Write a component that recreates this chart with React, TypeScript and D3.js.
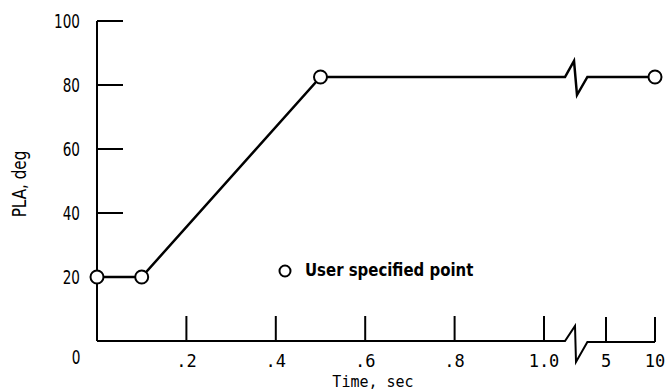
import React from "react";
import * as d3 from "d3";

const times = [0, 0.1, 0.5, 10];
const pla = [20, 20, 82.5, 82.5];
const yTicks = [20, 40, 60, 80, 100];
const xTicksLow = [0.2, 0.4, 0.6, 0.8, 1.0];
const xTickLowLabels = [".2", ".4", ".6", ".8", "1.0"];
const xTicksHigh = [5, 10];
const xTickHighLabels = ["5", "10"];

const W = 666;
const H = 390;
const sans = "'DejaVu Sans', 'Liberation Sans', sans-serif";
const mono = "'DejaVu Sans Mono', 'Liberation Mono', monospace";

const y = d3.scaleLinear().domain([0, 100]).range([341, 21]);
const xLow = d3.scaleLinear().domain([0, 1]).range([97, 544]);
const xHigh = d3.scaleLinear().domain([5, 10]).range([606, 655]);
const lowEnd = 1.047;
const highStart = 3.1;
const xAt = (t: number) => (t <= lowEnd ? xLow(t) : xHigh(t));

function Narrow({ x, y, anchor, sx, size, weight, children }: any) {
  return (
    <text
      transform={`translate(${x},${y}) scale(${sx},1)`}
      textAnchor={anchor}
      fontFamily={sans}
      fontSize={size}
      fontWeight={weight ?? "normal"}
    >
      {children}
    </text>
  );
}

export default function App() {
  const x0 = xLow(0);
  const yBase = y(0);
  const bStart = xLow(lowEnd);
  const bEnd = xHigh(highStart);

  const pts = times.map((t, i) => [xAt(t), y(pla[i])] as [number, number]);
  const line = d3.line();
  const lowPts = pts.filter((_, i) => times[i] <= lowEnd);
  const yLast = y(pla[pla.length - 1]);
  const dataPath = line([
    ...lowPts,
    [bStart, yLast],
    [bStart + 9, yLast - 16],
    [bStart + 12, yLast + 18],
    [bEnd, yLast],
    pts[pts.length - 1],
  ]);
  const axisPath = line([
    [x0, yBase],
    [bStart, yBase],
    [bStart + 10, yBase - 15],
    [bStart + 11, yBase + 21],
    [bEnd, yBase + 1],
    [xHigh(10), yBase + 1],
  ]);

  return (
    <svg width={W} height={H} style={{ position: "absolute", left: 0, top: 0, background: "#fff" }}>
      <rect x={0} y={0} width={W} height={H} fill="#fff" />
      {/* y axis */}
      <line x1={x0} x2={x0} y1={y(100)} y2={yBase} stroke="#000" strokeWidth={2} />
      {yTicks.map((v) => (
        <g key={v}>
          <line x1={x0} x2={x0 + 26} y1={y(v)} y2={y(v)} stroke="#000" strokeWidth={2} />
          <Narrow x={80} y={y(v) + 7} anchor="end" sx={0.68} size={20} weight={500}>
            {v}
          </Narrow>
        </g>
      ))}
      <Narrow x={76} y={364} anchor="middle" sx={0.72} size={19} weight={500}>
        0
      </Narrow>
      {/* x axis */}
      <path d={axisPath ?? ""} fill="none" stroke="#000" strokeWidth={2} strokeLinejoin="miter" />
      {xTicksLow.map((v, i) => (
        <g key={"l" + v}>
          <line x1={xLow(v)} x2={xLow(v)} y1={yBase} y2={yBase - 25} stroke="#000" strokeWidth={2} />
          <text x={xLow(v)} y={367} textAnchor="middle" fontFamily={mono} fontSize={17}>
            {xTickLowLabels[i]}
          </text>
        </g>
      ))}
      {xTicksHigh.map((v, i) => (
        <g key={"h" + v}>
          <line x1={xHigh(v)} x2={xHigh(v)} y1={yBase + 1} y2={yBase - 24} stroke="#000" strokeWidth={2} />
          <text x={xHigh(v)} y={367} textAnchor="middle" fontFamily={mono} fontSize={17}>
            {xTickHighLabels[i]}
          </text>
        </g>
      ))}
      <text x={373} y={387} textAnchor="middle" fontFamily={mono} fontSize={15}>
        Time, sec
      </text>
      <text
        transform={`translate(26,184) rotate(-90) scale(0.8,1)`}
        textAnchor="middle"
        fontFamily={sans}
        fontSize={19}
      >
        PLA, deg
      </text>
      {/* data */}
      <path d={dataPath ?? ""} fill="none" stroke="#000" strokeWidth={2.5} strokeLinejoin="miter" />
      {pts.map((p, i) => (
        <circle key={i} cx={p[0]} cy={p[1]} r={6.5} fill="#fff" stroke="#000" strokeWidth={2} />
      ))}
      {/* legend */}
      <circle cx={285} cy={271} r={5.5} fill="#fff" stroke="#000" strokeWidth={2} />
      <Narrow x={305} y={276} anchor="start" sx={0.83} size={18} weight="bold">
        User specified point
      </Narrow>
    </svg>
  );
}
